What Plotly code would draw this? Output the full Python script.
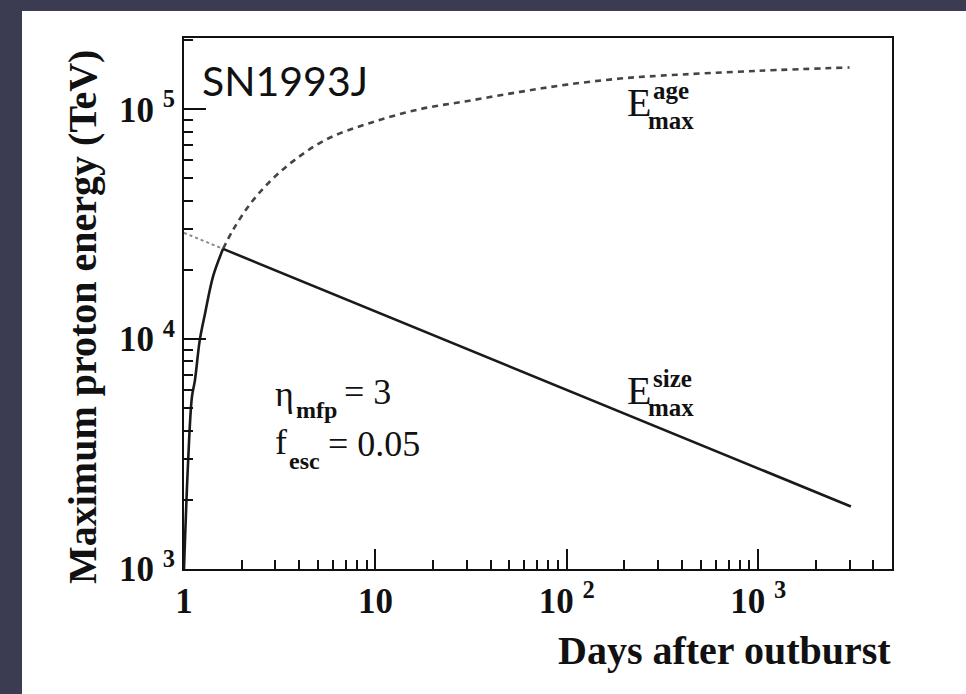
import plotly.graph_objects as go

# ---- data ----
age_days = [1.0, 1.05, 1.10, 1.14, 1.21, 1.29, 1.42, 1.60, 1.81, 2.21, 2.81, 3.72,
            5.55, 9.3, 17, 31, 57, 100, 190, 310, 1000, 3000]
age_energy = [1000, 2900, 5600, 6600, 9950, 13000, 18800, 24700, 30000, 38600, 48500,
              59500, 74000, 87000, 100000, 109000, 119000, 128000, 136000, 140000,
              147000, 152000]
kink_day = 1.60
size_days = [1.0, 1.60, 3050]
size_energy = [29000, 24700, 1870]

x_tickvals = [1, 10, 100, 1000]
x_ticktext = ["1", "10", "10 <sup>2</sup>", "10 <sup>3</sup>"]
y_tickvals = [1e3, 1e4, 1e5]
y_ticktext = ["10 <sup>3</sup>", "10 <sup>4</sup>", "10 <sup>5</sup>"]

W, H = 966, 694
L, R, T, B = 184, 892, 38, 569


def px(x):
    return (x - L) / (R - L)


def py(y):
    return (B - y) / (B - T)


age_low_x = [d for d in age_days if d <= kink_day]
age_low_y = [e for d, e in zip(age_days, age_energy) if d <= kink_day]
age_hi_x = [d for d in age_days if d >= kink_day]
age_hi_y = [e for d, e in zip(age_days, age_energy) if d >= kink_day]

fig = go.Figure()
fig.add_trace(go.Scatter(x=age_hi_x, y=age_hi_y, mode="lines", line_shape="spline",
                         line=dict(color="#444444", width=2.6, dash="6px,5px")))
fig.add_trace(go.Scatter(x=size_days[:2], y=size_energy[:2], mode="lines",
                         line=dict(color="#8a8a8a", width=2, dash="dot")))
fig.add_trace(go.Scatter(x=age_low_x, y=age_low_y, mode="lines", line_shape="spline",
                         line=dict(color="#1a1a1a", width=2.6)))
fig.add_trace(go.Scatter(x=size_days[1:], y=size_energy[1:], mode="lines",
                         line=dict(color="#1a1a1a", width=2.6)))

serif = "Liberation Serif"
tickfont = dict(family=serif, size=35, color="#111111")

fig.update_xaxes(type="log", range=[0, 3.699], showline=True, linecolor="#111111",
                 linewidth=2, mirror=True, showgrid=False, zeroline=False,
                 ticks="inside", ticklen=20, tickwidth=1.5, tickcolor="#111111",
                 tickvals=x_tickvals, ticktext=[f"<b>{t}</b>" for t in x_ticktext],
                 tickfont=tickfont,
                 minor=dict(ticks="inside", ticklen=9, tickwidth=1.5,
                            tickcolor="#111111", dtick="D1", showgrid=False))
fig.update_yaxes(type="log", range=[3, 5.31], showline=True, linecolor="#111111",
                 linewidth=2, mirror=True, showgrid=False, zeroline=False,
                 ticks="inside", ticklen=22, tickwidth=1.5, tickcolor="#111111",
                 tickvals=y_tickvals, ticktext=[f"<b>{t}</b>" for t in y_ticktext],
                 tickfont=tickfont,
                 minor=dict(ticks="inside", ticklen=9, tickwidth=1.5,
                            tickcolor="#111111", dtick="D1", showgrid=False))

ann = []


def add(text, x, y, size, xanchor="left", family=serif, angle=0, yanchor="middle"):
    ann.append(dict(text=text, x=px(x), y=py(y), xref="paper", yref="paper",
                    xanchor=xanchor, yanchor=yanchor, showarrow=False,
                    textangle=angle, font=dict(family=family, size=size, color="#111111")))


add("SN1993J", 200, 80, 41, family="Lato")
add("<b>Days after outburst</b>", 893, 650, 40, xanchor="right")
add("<b>Maximum proton energy (TeV)</b>", 83, 317, 40, xanchor="center", angle=-90)
# E_max^age
add("E", 625, 103, 40)
add("<b>age</b>", 651, 90, 25)
add("<b>max</b>", 646, 121, 25)
# E_max^size
add("E", 625, 390, 40)
add("<b>size</b>", 651, 378, 25)
add("<b>max</b>", 646, 408, 25)
# parameters
add("η", 273, 394, 36)
add("<b>mfp</b>", 294, 410, 24)
add("= 3", 342, 392, 36)
add("f", 273, 442, 36)
add("<b>esc</b>", 287, 461, 24)
add("= 0.05", 326, 444, 36)

fig.update_layout(
    width=W, height=H,
    margin=dict(l=L, r=W - R, t=T, b=H - B),
    paper_bgcolor="#3b3c52", plot_bgcolor="white",
    showlegend=False, annotations=ann,
    shapes=[dict(type="rect", xref="paper", yref="paper",
                 x0=px(22), x1=px(980), y0=py(705), y1=py(11),
                 fillcolor="white", line=dict(width=0), layer="below")],
)

fig.write_html("out.html")
